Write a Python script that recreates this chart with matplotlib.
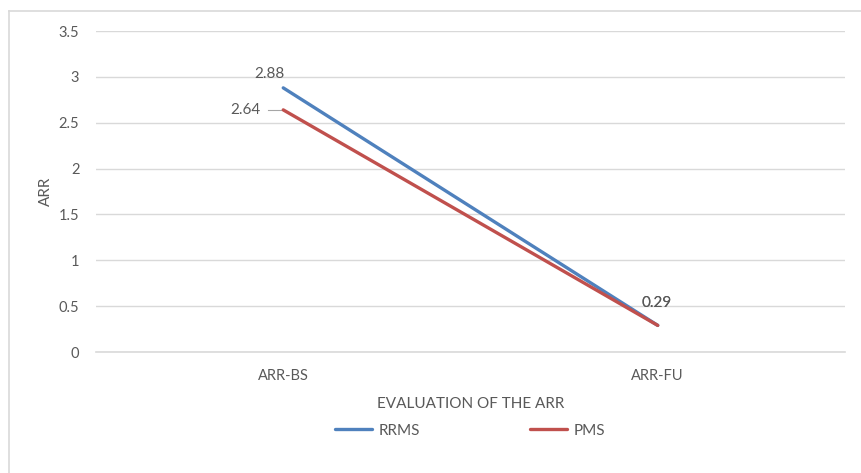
import matplotlib.pyplot as plt
from matplotlib.lines import Line2D

plt.rcParams['font.family'] = ['Lato', 'DejaVu Sans']

categories = ['ARR-BS', 'ARR-FU']
rrms = [2.88, 0.29]
pms = [2.64, 0.29]
yticks = [0, 0.5, 1, 1.5, 2, 2.5, 3, 3.5]

blue = '#4F81BD'
red = '#C0504D'
txt = '#595959'
grid = '#D9D9D9'
fs = 11

fig = plt.figure(figsize=(8.61, 4.73), dpi=100)
W, H = 861, 473

# chart frame (top and left edges only)
fig.add_artist(Line2D([9 / W, 1], [1 - 11 / H, 1 - 11 / H], color='#D9D9D9', lw=1.2,
                      transform=fig.transFigure))
fig.add_artist(Line2D([9 / W, 9 / W], [0, 1 - 11 / H], color='#D9D9D9', lw=1.2,
                      transform=fig.transFigure))

ax = fig.add_axes([96 / W, 1 - 352 / H, (845 - 96) / W, (352 - 31) / H])
x = list(range(len(categories)))
ax.plot(x, rrms, color=blue, lw=2.4, solid_capstyle='round', label='RRMS', zorder=3)
ax.plot(x, pms, color=red, lw=2.4, solid_capstyle='round', label='PMS', zorder=3)

ax.set_xlim(-0.5, len(categories) - 0.5)
ax.set_ylim(0, 3.5)
ax.set_yticks(yticks)
ax.set_yticklabels([f'{t:g}' for t in yticks])
ax.set_xticks(x)
ax.set_xticklabels(categories)
ax.tick_params(length=0, colors=txt, labelsize=10.5)
ax.tick_params(axis='y', pad=12)
ax.tick_params(axis='x', pad=12)
ax.grid(axis='y', color=grid, lw=1)
ax.set_axisbelow(True)
for s in ['top', 'right', 'left']:
    ax.spines[s].set_visible(False)
ax.spines['bottom'].set_color(grid)
ax.spines['bottom'].set_linewidth(1.2)

# data labels
ax.annotate(f'{rrms[0]:.2f}', (x[0], rrms[0]), xytext=(-10, 10), textcoords='offset points',
            ha='center', va='center', color=txt, fontsize=fs)
ax.annotate(f'{pms[0]:.2f}', (x[0], pms[0]), xytext=(-27, 0), textcoords='offset points',
            ha='center', va='center', color=txt, fontsize=fs)
ax.plot([x[0] - 0.04, x[0] - 0.004], [pms[0], pms[0]], color='#A6A6A6', lw=0.8)
ax.annotate(f'{rrms[1]:.2f}', (x[1], rrms[1]), xytext=(-1, 16), textcoords='offset points',
            ha='center', va='center', color=txt, fontsize=fs)
ax.annotate(f'{pms[1]:.2f}', (x[1], pms[1]), xytext=(-1, 16), textcoords='offset points',
            ha='center', va='center', color=txt, fontsize=fs)

ax.set_ylabel('ARR', color=txt, fontsize=fs, labelpad=4)
ax.set_xlabel('EVALUATION OF THE ARR', color=txt, fontsize=fs, labelpad=10)

leg = ax.legend(loc='upper center', bbox_to_anchor=(0.5, -0.18), ncol=2, frameon=False,
                fontsize=fs, handlelength=2.4, columnspacing=7.2, handletextpad=0.45)
for t in leg.get_texts():
    t.set_color(txt)

fig.savefig('out.png', dpi=100, facecolor='white')
